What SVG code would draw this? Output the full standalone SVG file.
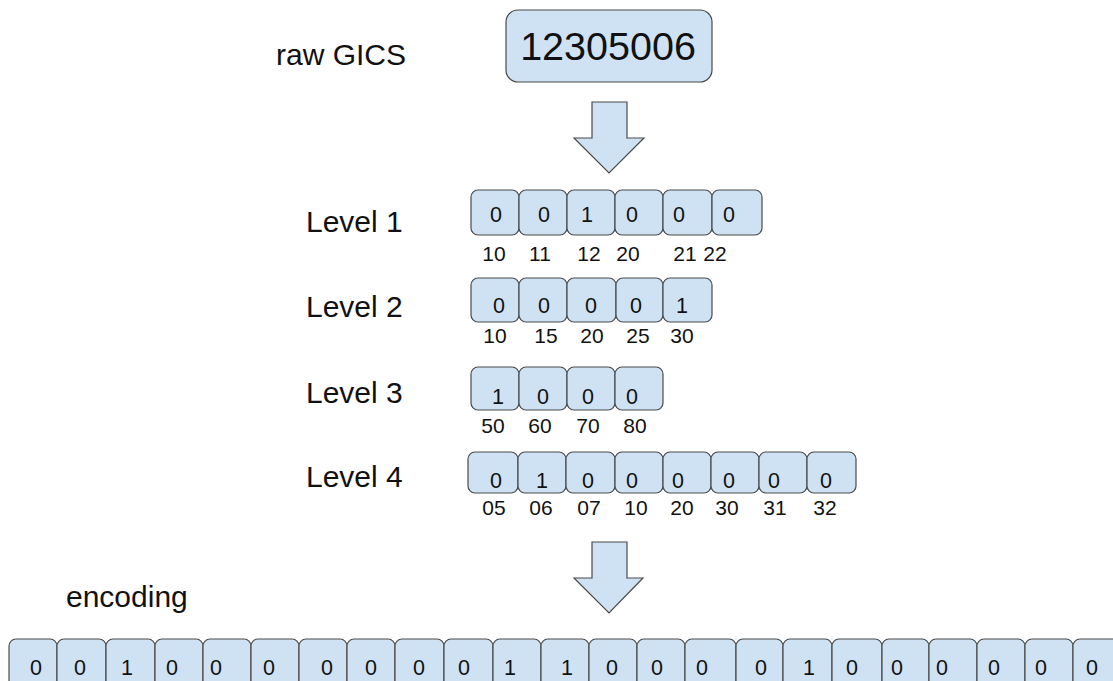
<svg xmlns="http://www.w3.org/2000/svg" width="1113" height="681" viewBox="0 0 1113 681">
<style>
.bx{fill:#cfe2f3;stroke:#4a4a4a;stroke-width:1.2}
.ar{fill:#cfe2f3;stroke:#4a4a4a;stroke-width:1.2;stroke-linejoin:miter}
.t{font-family:"Liberation Sans",Arial,sans-serif;fill:#111}
.lab{font-size:30px}
.d{font-size:21.5px;text-anchor:middle}
.n{font-size:21px;text-anchor:middle}
</style>
<rect width="1113" height="681" fill="#fff"/>
<g id="raw-label"><text class="t lab" x="276" y="65">raw GICS</text></g>
<g id="raw-node">
<rect class="bx" x="506" y="10" width="206" height="72" rx="12"/>
<text class="t" x="608" y="60" font-size="39.5" text-anchor="middle">12305006</text>
</g>
<g id="connectors">
<polygon class="ar" points="592,102 627,102 627,138 644,138 609,173 574,138 592,138"/>
<polygon class="ar" points="592,542 627,542 627,578 643,578 609,613 574,578 592,578"/>
</g>
<g id="level1">
<text class="t lab" x="306" y="232" font-size="29.5">Level 1</text>
<rect class="bx" x="471" y="190" width="48" height="45" rx="7"/>
<rect class="bx" x="519" y="190" width="48" height="45" rx="7"/>
<rect class="bx" x="567" y="190" width="48" height="45" rx="7"/>
<rect class="bx" x="615" y="190" width="48" height="45" rx="7"/>
<rect class="bx" x="663" y="190" width="49" height="45" rx="7"/>
<rect class="bx" x="712" y="190" width="50" height="45" rx="7"/>
<text class="t d" x="496" y="222">0</text>
<text class="t d" x="544" y="222">0</text>
<text class="t d" x="587" y="222">1</text>
<text class="t d" x="632" y="222">0</text>
<text class="t d" x="679" y="222">0</text>
<text class="t d" x="729" y="222">0</text>
<text class="t n" x="494" y="261">10</text>
<text class="t n" x="540" y="261">11</text>
<text class="t n" x="589" y="261">12</text>
<text class="t n" x="628" y="261">20</text>
<text class="t n" x="685" y="261">21</text>
<text class="t n" x="715" y="261">22</text>
</g>
<g id="level2">
<text class="t lab" x="306" y="317">Level 2</text>
<rect class="bx" x="471" y="278" width="48" height="44" rx="7"/>
<rect class="bx" x="519" y="278" width="48" height="44" rx="7"/>
<rect class="bx" x="567" y="278" width="49" height="44" rx="7"/>
<rect class="bx" x="616" y="278" width="47" height="44" rx="7"/>
<rect class="bx" x="663" y="278" width="49" height="44" rx="7"/>
<text class="t d" x="499" y="313">0</text>
<text class="t d" x="544" y="313">0</text>
<text class="t d" x="591" y="313">0</text>
<text class="t d" x="636" y="313">0</text>
<text class="t d" x="682" y="313">1</text>
<text class="t n" x="495" y="343">10</text>
<text class="t n" x="546" y="343">15</text>
<text class="t n" x="592" y="343">20</text>
<text class="t n" x="638" y="343">25</text>
<text class="t n" x="682" y="343">30</text>
</g>
<g id="level3">
<text class="t lab" x="306" y="403">Level 3</text>
<rect class="bx" x="471" y="367" width="48" height="43" rx="7"/>
<rect class="bx" x="519" y="367" width="48" height="43" rx="7"/>
<rect class="bx" x="567" y="367" width="48" height="43" rx="7"/>
<rect class="bx" x="615" y="367" width="48" height="43" rx="7"/>
<text class="t d" x="498" y="404">1</text>
<text class="t d" x="543" y="404">0</text>
<text class="t d" x="588" y="404">0</text>
<text class="t d" x="632" y="404">0</text>
<text class="t n" x="493" y="433">50</text>
<text class="t n" x="540" y="433">60</text>
<text class="t n" x="588" y="433">70</text>
<text class="t n" x="635" y="433">80</text>
</g>
<g id="level4">
<text class="t lab" x="306" y="487">Level 4</text>
<rect class="bx" x="468" y="452" width="50" height="41" rx="7"/>
<rect class="bx" x="518" y="452" width="48" height="41" rx="7"/>
<rect class="bx" x="566" y="452" width="49" height="41" rx="7"/>
<rect class="bx" x="615" y="452" width="48" height="41" rx="7"/>
<rect class="bx" x="663" y="452" width="48" height="41" rx="7"/>
<rect class="bx" x="711" y="452" width="48" height="41" rx="7"/>
<rect class="bx" x="759" y="452" width="48" height="41" rx="7"/>
<rect class="bx" x="807" y="452" width="49" height="41" rx="7"/>
<text class="t d" x="496" y="488">0</text>
<text class="t d" x="542" y="488">1</text>
<text class="t d" x="588" y="488">0</text>
<text class="t d" x="632" y="488">0</text>
<text class="t d" x="678" y="488">0</text>
<text class="t d" x="729" y="488">0</text>
<text class="t d" x="774" y="488">0</text>
<text class="t d" x="826" y="488">0</text>
<text class="t n" x="494" y="515">05</text>
<text class="t n" x="541" y="515">06</text>
<text class="t n" x="589" y="515">07</text>
<text class="t n" x="636" y="515">10</text>
<text class="t n" x="682" y="515">20</text>
<text class="t n" x="727" y="515">30</text>
<text class="t n" x="775" y="515">31</text>
<text class="t n" x="825" y="515">32</text>
</g>
<g id="encoding-label"><text class="t lab" x="66" y="607">encoding</text></g>
<g id="encoding">
<rect class="bx" x="9" y="639" width="48" height="52" rx="7"/>
<rect class="bx" x="57" y="639" width="49" height="52" rx="7"/>
<rect class="bx" x="106" y="639" width="49" height="52" rx="7"/>
<rect class="bx" x="155" y="639" width="48" height="52" rx="7"/>
<rect class="bx" x="203" y="639" width="48" height="52" rx="7"/>
<rect class="bx" x="251" y="639" width="48" height="52" rx="7"/>
<rect class="bx" x="299" y="639" width="48" height="52" rx="7"/>
<rect class="bx" x="347" y="639" width="48" height="52" rx="7"/>
<rect class="bx" x="395" y="639" width="49" height="52" rx="7"/>
<rect class="bx" x="444" y="639" width="49" height="52" rx="7"/>
<rect class="bx" x="493" y="639" width="48" height="52" rx="7"/>
<rect class="bx" x="541" y="639" width="48" height="52" rx="7"/>
<rect class="bx" x="589" y="639" width="48" height="52" rx="7"/>
<rect class="bx" x="637" y="639" width="48" height="52" rx="7"/>
<rect class="bx" x="685" y="639" width="51" height="52" rx="7"/>
<rect class="bx" x="736" y="639" width="47" height="52" rx="7"/>
<rect class="bx" x="783" y="639" width="49" height="52" rx="7"/>
<rect class="bx" x="832" y="639" width="50" height="52" rx="7"/>
<rect class="bx" x="882" y="639" width="47" height="52" rx="7"/>
<rect class="bx" x="929" y="639" width="48" height="52" rx="7"/>
<rect class="bx" x="977" y="639" width="48" height="52" rx="7"/>
<rect class="bx" x="1025" y="639" width="48" height="52" rx="7"/>
<rect class="bx" x="1073" y="639" width="48" height="52" rx="7"/>
<text class="t d" x="36" y="675">0</text>
<text class="t d" x="80" y="675">0</text>
<text class="t d" x="127" y="675">1</text>
<text class="t d" x="172" y="675">0</text>
<text class="t d" x="216" y="675">0</text>
<text class="t d" x="269" y="675">0</text>
<text class="t d" x="327" y="675">0</text>
<text class="t d" x="371" y="675">0</text>
<text class="t d" x="419" y="675">0</text>
<text class="t d" x="464" y="675">0</text>
<text class="t d" x="510" y="675">1</text>
<text class="t d" x="567" y="675">1</text>
<text class="t d" x="612" y="675">0</text>
<text class="t d" x="657" y="675">0</text>
<text class="t d" x="702" y="675">0</text>
<text class="t d" x="761" y="675">0</text>
<text class="t d" x="809" y="675">1</text>
<text class="t d" x="852" y="675">0</text>
<text class="t d" x="897" y="675">0</text>
<text class="t d" x="942" y="675">0</text>
<text class="t d" x="994" y="675">0</text>
<text class="t d" x="1041" y="675">0</text>
<text class="t d" x="1092" y="675">0</text>
</g>
</svg>
